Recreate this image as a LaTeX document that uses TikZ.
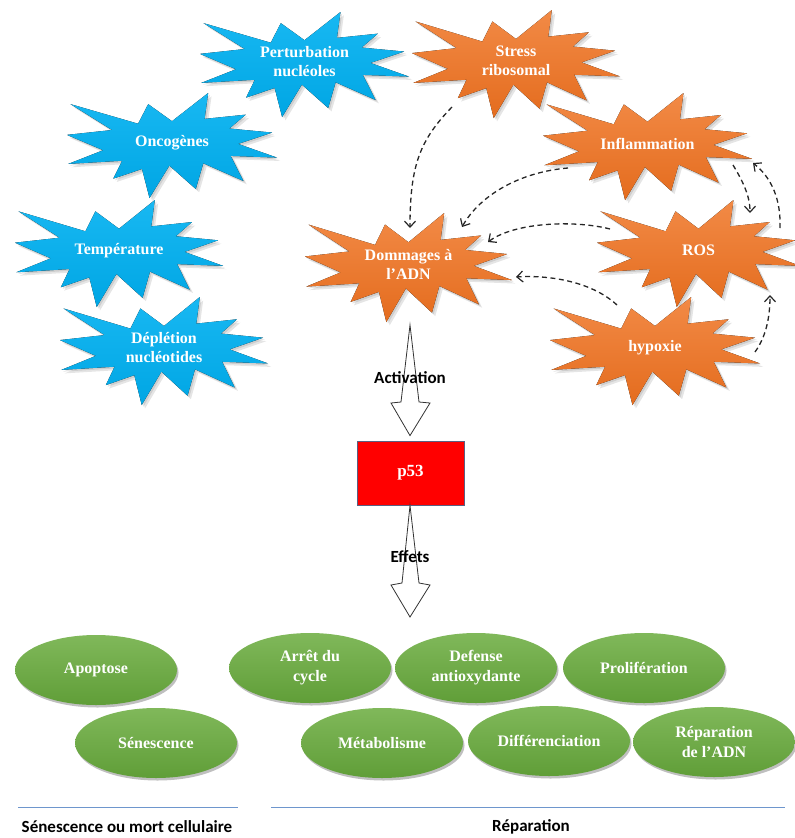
\documentclass[tikz,border=0pt]{standalone}
\usepackage{fontspec}
\setmainfont{Liberation Serif}
\newfontfamily\labelfont{Carlito}
\usetikzlibrary{arrows.meta,shapes.geometric,shadows}

\definecolor{bluetop}{RGB}{24,184,242}
\definecolor{bluebot}{RGB}{0,166,228}
\definecolor{orangetop}{RGB}{242,138,70}
\definecolor{orangebot}{RGB}{228,108,30}
\definecolor{greentop}{RGB}{128,184,90}
\definecolor{greenbot}{RGB}{96,158,56}
\definecolor{sepline}{RGB}{110,150,205}
\definecolor{p53border}{RGB}{90,95,130}

\def\burstpath{(50,26.85) -- (67.23,0) -- (65.53,24.65) -- (85.09,20.63) -- (77.32,33.87) -- (97.67,37.67) -- (81.51,48.50) -- (100,61.53) -- (77.95,59.92) -- (84.00,83.77) -- (64.91,66.93) -- (61.33,91.38) -- (48.76,69.14) -- (39.28,100) -- (35.72,72.35) -- (22.05,81.56) -- (26.24,64.52) -- (0.63,67.53) -- (17.23,54.51) -- (0,39.88) -- (21.42,35.26) -- (1.71,10.63) -- (33.85,29.26) -- (38.67,10.63) -- cycle}

% #1 name, #2 left, #3 top, #4 width, #5 height, #6 fill style, #7 text
\newcommand\burst[7]{%
  \begin{scope}[shift={(#2,#3)},xscale=#4/100,yscale=#5/100]
    \fill[black,opacity=.10] [shift={(1.6,3.2)}] \burstpath;
    \fill[black,opacity=.10] [shift={(0.8,1.6)}] \burstpath;
    \fill[#6] \burstpath;
  \end{scope}
  \node[bursttext,minimum width=#4,minimum height=#5] (#1) at (#2+#4/2,#3+#5/2-3) {#7};
}

\tikzset{
  bluefill/.style={top color=bluetop,bottom color=bluebot},
  orangefill/.style={top color=orangetop,bottom color=orangebot},
  bursttext/.style={text=white,font=\bfseries\fontsize{16}{19}\selectfont,align=center,inner sep=0pt},
  effect/.style={ellipse,minimum width=162,minimum height=70,inner sep=0pt,
    top color=greentop,bottom color=greenbot,text=white,
    font=\bfseries\fontsize{16}{20}\selectfont,align=center,
    drop shadow={shadow xshift=1.5pt,shadow yshift=-2.5pt,opacity=.25,fill=black}},
  dashedlink/.style={draw=black!85,line width=1.3pt,dash pattern=on 5pt off 3.5pt,
    -{Straight Barb[length=6pt,width=11pt,line width=1.2pt]}},
  blockarrow/.style={draw=black!80,fill=white,line width=0.8pt,line join=miter},
  sanslabel/.style={font=\labelfont\bfseries\fontsize{17}{20}\selectfont,text=black,inner sep=0pt},
  sep/.style={draw=sepline,line width=1pt}
}

\begin{document}
\begin{tikzpicture}[x=1pt,y=-1pt]
\useasboundingbox (0,0) rectangle (795,838);

% stress sources (blue)
\burst{pert}{200}{12}{209}{105}{bluefill}{Perturbation\\nucléoles}
\burst{onco}{67}{93}{210}{105}{bluefill}{Oncogènes}
\burst{temp}{15}{200}{208}{107}{bluefill}{Température}
\burst{depl}{60}{297}{208}{108}{bluefill}{Déplétion\\nucléotides}

% orange
\burst{stress}{412}{10}{208}{108}{orangefill}{Stress\\ribosomal}
\burst{infl}{543}{93}{209}{107}{orangefill}{Inflammation}
\burst{domm}{305}{213}{207}{109}{orangefill}{Dommages à\\l’ADN}
\burst{ros}{597}{200}{203}{107}{orangefill}{ROS}
\burst{hyp}{550}{297}{210}{108}{orangefill}{hypoxie}

% dashed connectors
\draw[dashedlink] ([shift={(-64,46)}]stress.center) .. controls (420,140) and (410,165) .. ([shift={(1.5,-36.5)}]domm.center);
\draw[dashedlink] ([shift={(-79.5,24.5)}]infl.center) .. controls (520,172) and (480,195) .. ([shift={(53.5,-37.5)}]domm.center);
\draw[dashedlink] ([shift={(-88.5,-21.5)}]ros.center) .. controls (575,220) and (515,222) .. ([shift={(79.5,-22.5)}]domm.center);
\draw[dashedlink] ([shift={(-38,-43)}]hyp.center) .. controls (590,280) and (545,275) .. ([shift={(107.5,12.5)}]domm.center);
\draw[dashedlink] ([shift={(85.5,21.5)}]infl.center) .. controls (742,180) and (750,195) .. ([shift={(51.5,-37.5)}]ros.center);
\draw[dashedlink] ([shift={(81.5,-22.5)}]ros.center) .. controls (781,200) and (772,178) .. ([shift={(105.5,19.5)}]infl.center);
\draw[dashedlink] ([shift={(100,4)}]hyp.center) .. controls (765,338) and (770,320) .. ([shift={(71.5,44.5)}]ros.center);

% p53
\node[draw=p53border,line width=0.8pt,fill=red,minimum width=107,minimum height=64,inner sep=0pt,
  text=white,font=\bfseries\fontsize{17}{20}\selectfont] (p53) at (410.5,473) {p53};

% block arrows
\coordinate (a1top) at (410,325);
\coordinate (a2tip) at (410,617);
\draw[blockarrow] (a1top) -- (419,402) -- (430,403) -- ([shift={(-0.5,-5)}]p53.north) -- (391,403) -- (401,402) -- cycle;
\draw[blockarrow] ([shift={(-0.5,0)}]p53.south) -- (419,583) -- (430,585) -- (a2tip) -- (391,585) -- (402,583) -- cycle;
\node[sanslabel] (act) at (410,378) {Activation};
\node[sanslabel] (eff) at (410,557) {Effets};

% effects
\node[effect] (apop) at (96,670) {Apoptose};
\node[effect] (sen) at (156,743) {Sénescence};
\node[effect] (arret) at (310,668) {Arrêt du\\cycle};
\node[effect] (defense) at (476,668) {Defense\\antioxydante};
\node[effect] (prolif) at (644,668) {Prolifération};
\node[effect] (metab) at (382,743) {Métabolisme};
\node[effect] (diff) at (549,741) {Différenciation};
\node[effect] (repar) at (714,742) {Réparation\\de l’ADN};

% separators and group labels
\coordinate (l1a) at (18,807);
\coordinate (l1b) at (238,807);
\coordinate (l2a) at (271,807);
\coordinate (l2b) at (785,807);
\draw[sep] (l1a) -- (l1b);
\draw[sep] (l2a) -- (l2b);
\node[sanslabel] (labsen) at (127,827) {Sénescence ou mort cellulaire};
\node[sanslabel] (labrep) at (531,827) {Réparation};
\end{tikzpicture}
\end{document}
